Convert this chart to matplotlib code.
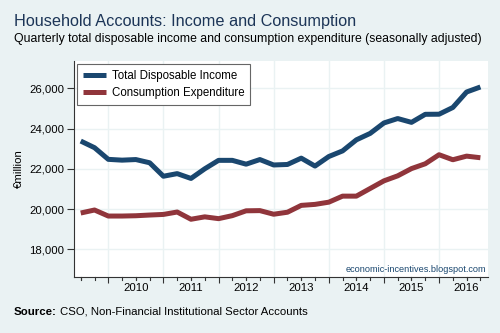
import matplotlib
matplotlib.use("Agg")
import matplotlib.pyplot as plt
from matplotlib.ticker import FuncFormatter, FixedLocator

plt.rcParams['font.family'] = ['Liberation Sans', 'DejaVu Sans']

# Quarterly series, 2009 Q3 onwards (EUR million, seasonally adjusted)
start_year = 2009.5
income = [23380, 23050, 22470, 22430, 22460, 22300, 21630, 21760, 21520, 22000,
          22420, 22420, 22230, 22460, 22190, 22215, 22530, 22135, 22610, 22890,
          23440, 23760, 24280, 24500, 24310, 24710, 24715, 25050, 25820, 26070]
consumption = [19800, 19950, 19650, 19650, 19665, 19700, 19730, 19850, 19490, 19610,
               19520, 19670, 19910, 19920, 19740, 19840, 20180, 20230, 20340, 20640,
               20640, 21020, 21400, 21650, 22010, 22250, 22700, 22450, 22630, 22550]
years = [2010, 2011, 2012, 2013, 2014, 2015, 2016]
y_ticks = [18000, 20000, 22000, 24000, 26000]

t = [start_year + 0.25 * i for i in range(len(income))]

bg = '#eaf2f3'
navy = '#1a476f'
maroon = '#90353b'

fig = plt.figure(figsize=(5.0, 3.33), dpi=100, facecolor=bg)
ax = fig.add_axes([0.148, 0.168, 0.828, 0.649])
ax.set_facecolor('white')

ax.plot(t, income, color=navy, lw=3.6, solid_capstyle='butt', solid_joinstyle='round',
        label='Total Disposable Income', zorder=3)
ax.plot(t, consumption, color=maroon, lw=3.6, solid_capstyle='butt', solid_joinstyle='round',
        label='Consumption Expenditure', zorder=3)

ax.set_xlim(2009.378, 2016.888)
ax.set_ylim(16615, 27365)

# y axis
ax.set_yticks(y_ticks)
ax.yaxis.set_major_formatter(FuncFormatter(lambda v, p: f'{int(v):,}'))
ax.tick_params(axis='y', length=5, width=0.8, color='#333333', labelsize=8.2, pad=2)

# x axis: year boundaries as major ticks, labels centred in each year
ax.xaxis.set_major_locator(FixedLocator(years))
ax.xaxis.set_major_formatter(FuncFormatter(lambda v, p: ''))
ax.xaxis.set_minor_locator(FixedLocator([y + 0.5 for y in [2009] + years]))
ax.xaxis.set_minor_formatter(FuncFormatter(lambda v, p: f'{int(v)}' if int(v) in years else ''))
ax.tick_params(axis='x', which='major', length=4, width=0.8, color='#333333')
ax.tick_params(axis='x', which='minor', length=2.5, width=0.8, color='#333333', labelsize=8.2, pad=2)

# quarterly tick marks between the year boundaries
for q in [start_year + 0.25 * i for i in range(-1, 31)]:
    if ax.get_xlim()[0] <= q <= ax.get_xlim()[1] and abs(q - round(q)) > 1e-6:
        ax.plot([q, q], [0, -0.012], transform=ax.get_xaxis_transform(),
                color='#333333', lw=0.8, clip_on=False, zorder=1)

ax.grid(True, which='major', color=bg, lw=1.0, zorder=0)
for s in ['top', 'right']:
    ax.spines[s].set_visible(False)
for s in ['left', 'bottom']:
    ax.spines[s].set_color('#333333')
    ax.spines[s].set_linewidth(0.8)

ax.set_ylabel('€million', fontsize=8.2, labelpad=4)

leg = ax.legend(loc='upper left', bbox_to_anchor=(0.008, 0.985), fontsize=8.3,
                frameon=True, fancybox=False, edgecolor='#666666', framealpha=1,
                handlelength=2.0, handletextpad=0.5, borderpad=0.5, labelspacing=0.45,
                borderaxespad=0)
leg.get_frame().set_linewidth(0.8)

ax.text(0.995, 0.012, 'economic-incentives.blogspot.com', transform=ax.transAxes,
        ha='right', va='bottom', fontsize=6.6, color=navy)

fig.text(0.028, 0.935, 'Household Accounts: Income and Consumption', fontsize=11.7,
         color='#1c3557', ha='left', va='center')
fig.text(0.028, 0.882, 'Quarterly total disposable income and consumption expenditure (seasonally adjusted)',
         fontsize=8.8, color='black', ha='left', va='center')
fig.text(0.028, 0.064, 'Source:', fontsize=8.2, fontweight='bold', ha='left', va='center')
fig.text(0.12, 0.064, 'CSO, Non-Financial Institutional Sector Accounts', fontsize=8.2,
         ha='left', va='center')

fig.savefig('out.png', dpi=100, facecolor=bg)
